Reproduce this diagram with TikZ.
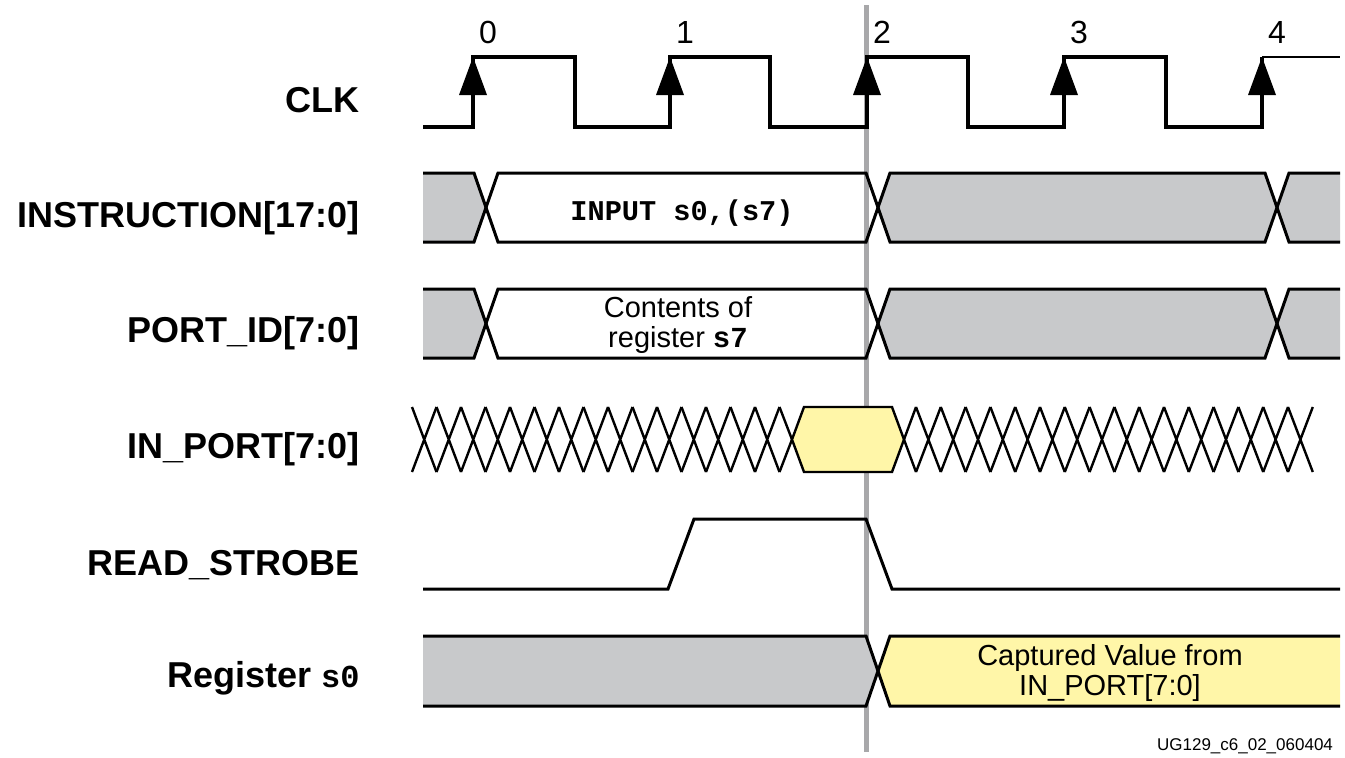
\documentclass[tikz,border=0pt]{standalone}
\usepackage{fontspec}
\setmainfont{Liberation Sans}
\setmonofont{Liberation Mono}
\definecolor{busgray}{RGB}{200,201,203}
\definecolor{capyellow}{RGB}{255,246,168}
\definecolor{markgray}{RGB}{168,168,170}
\tikzset{
  sig/.style={line width=1.5pt},
  xline/.style={line width=1.2pt},
  lbl/.style={anchor=base east, inner sep=0pt, font=\fontsize{18}{20}\selectfont\bfseries},
  inner/.style={font=\fontsize{14.5}{15}\selectfont, align=center},
  tick/.style={font=\fontsize{16}{18}\selectfont},
}
\begin{document}
\begin{tikzpicture}[x=0.5pt,y=-0.5pt]
      \useasboundingbox (0,0) rectangle (1345,757);
      \draw[markgray, line width=2.5pt] (866,5) -- (866,752);
      \draw
        (360,112) node[lbl] (lclk){CLK}
        (360,227) node[lbl] (linstr){INSTRUCTION[17:0]}
        (360,342) node[lbl] (lport){PORT\_ID[7:0]}
        (360,458) node[lbl] (linport){IN\_PORT[7:0]}
        (360,575) node[lbl] (lstrobe){READ\_STROBE}
        (360,687) node[lbl] (lreg){Register {\ttfamily\fontsize{16}{18}\selectfont s0}};
      \draw[sig, line width=1.6pt] (423,127) -- (473,127) -- (473,57) -- (575,57) -- (575,127)
        -- (670,127) -- (670,57) -- (770,57) -- (770,127) -- (867,127) -- (867,57)
        -- (968,57) -- (968,127) -- (1064,127) -- (1064,57) -- (1166,57) -- (1166,127)
        -- (1262,127) -- (1262,57);
      \draw[line width=1pt] (1262,57) -- (1340,57);
      \foreach \x/\n in {473/0,670/1,867/2,1064/3,1262/4} {
        \fill ({\x-14},95) -- (\x,57) -- ({\x+14},95) -- cycle;
        \node[tick] (t\n) at ({\x+15},32) {\n};
      }
      \foreach \t in {173,289} {
        \fill[busgray] (423,\t) -- (474,\t) -- (486,{\t+34.5}) -- (474,{\t+69}) -- (423,{\t+69}) -- cycle;
        \fill[busgray] (878,{\t+34.5}) -- (890,\t) -- (1265,\t) -- (1277,{\t+34.5}) -- (1265,{\t+69}) -- (890,{\t+69}) -- cycle;
        \fill[busgray] (1277,{\t+34.5}) -- (1289,\t) -- (1340,\t) -- (1340,{\t+69}) -- (1289,{\t+69}) -- cycle;
        \draw[sig] (423,\t) -- (474,\t) -- (498,{\t+69}) -- (866,{\t+69}) -- (890,\t) -- (1265,\t) -- (1289,{\t+69}) -- (1340,{\t+69});
        \draw[sig] (423,{\t+69}) -- (474,{\t+69}) -- (498,\t) -- (866,\t) -- (890,{\t+69}) -- (1265,{\t+69}) -- (1289,\t) -- (1340,\t);
      }
      \node[inner, font=\fontsize{14.3}{15}\selectfont\ttfamily\bfseries, anchor=base] (cinstr) at (682,220) {INPUT s0,(s7)};
      \node[inner] (cport) at (678,325) {Contents of\\register {\ttfamily\bfseries s7}};
      \foreach \i in {0,...,14}
        \draw[xline] ({412+24.5*\i},407) -- ({436.5+24.5*\i},472) ({412+24.5*\i},472) -- ({436.5+24.5*\i},407);
      \draw[xline] (779.5,407) -- (792,439.5) -- (779.5,472);
      \draw[xline, fill=capyellow] (792,439.5) -- (804,407) -- (892,407) -- (904,439.5) -- (892,472) -- (804,472) -- cycle;
      \draw[xline] (916,407) -- (904,439.5) -- (916,472);
      \foreach \i in {0,...,15}
        \draw[xline] ({916+24.8*\i},407) -- ({940.8+24.8*\i},472) ({916+24.8*\i},472) -- ({940.8+24.8*\i},407);
      \draw[sig] (423,589) -- (668,589) -- (694,519) -- (866,519) -- (892,589) -- (1340,589);
      \fill[busgray] (423,636) -- (866,636) -- (878,671) -- (866,706) -- (423,706) -- cycle;
      \fill[capyellow] (878,671) -- (890,636) -- (1340,636) -- (1340,706) -- (890,706) -- cycle;
      \draw[sig] (423,636) -- (866,636) -- (890,706) -- (1340,706);
      \draw[sig] (423,706) -- (866,706) -- (890,636) -- (1340,636);
      \node[inner] (creg) at (1110,673) {Captured Value from\\IN\_PORT[7:0]};
      \node[font=\fontsize{8.5}{9}\selectfont, anchor=base east] (figid) at (1340,750) {UG129\_c6\_02\_060404};
\end{tikzpicture}
\end{document}
